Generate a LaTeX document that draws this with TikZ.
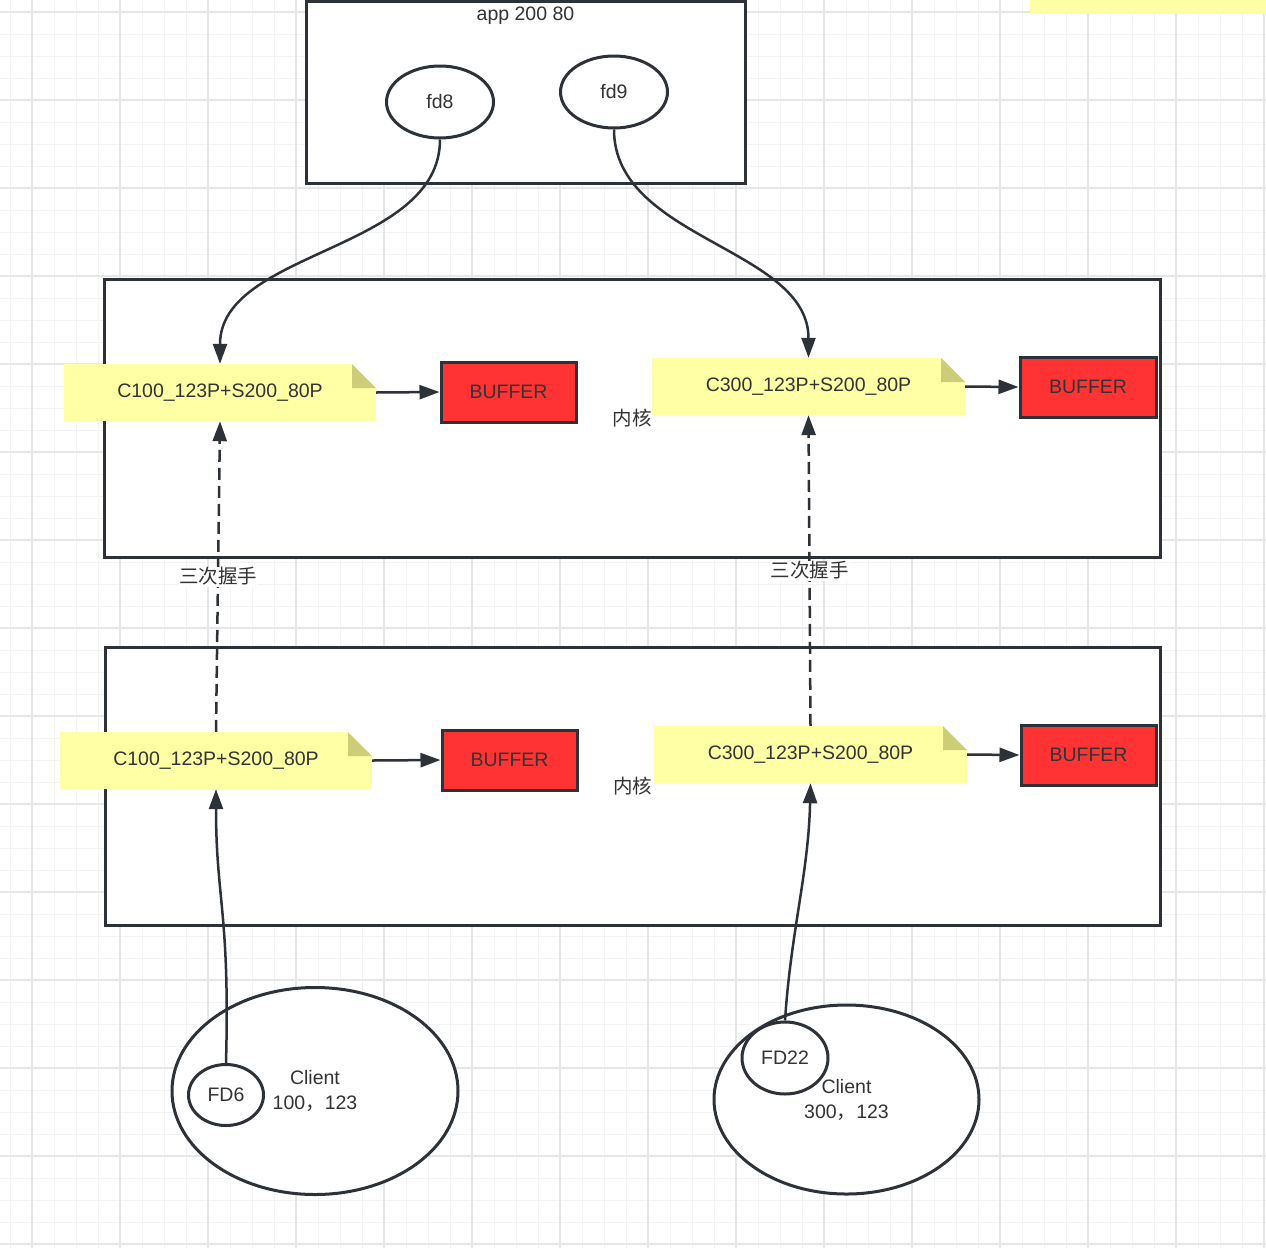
\documentclass[tikz,border=0pt]{standalone}
\usepackage{fontspec}
\setmainfont{Liberation Sans}
\newfontfamily\cjk{Noto Sans CJK SC}
\usetikzlibrary{shapes.geometric,arrows.meta}
\definecolor{ink}{RGB}{44,50,56}
\definecolor{txt}{RGB}{51,51,51}
\definecolor{notefill}{RGB}{255,255,166}
\definecolor{notefold}{RGB}{205,205,120}
\definecolor{bufred}{RGB}{255,51,51}
\definecolor{gridminor}{RGB}{243,243,243}
\definecolor{gridmajor}{RGB}{230,230,230}
\tikzset{
 box/.style={draw=ink,line width=3pt,fill=white,text=txt,inner sep=0pt},
 note/.style={fill=notefill,text=txt,minimum width=312pt,minimum height=57pt,inner sep=0pt,
  path picture={
   \fill[white] ([xshift=-24pt]path picture bounding box.north east) -- (path picture bounding box.north east) -- ([yshift=-24pt]path picture bounding box.north east) -- cycle;
   \fill[notefold] ([xshift=-24pt]path picture bounding box.north east) -- ([xshift=-24pt,yshift=-24pt]path picture bounding box.north east) -- ([yshift=-24pt]path picture bounding box.north east) -- cycle;}},
 buf/.style={box,fill=bufred,minimum width=135pt,minimum height=60pt},
 fd/.style={draw=ink,line width=3pt,ellipse,inner sep=0pt,text=txt,align=center},
 link/.style={draw=ink,line width=2.5pt,-{Triangle[length=20pt,width=14pt]}},
 hand/.style={link,dash pattern=on 12pt off 6pt},
 hslbl/.style={fill=white,text=txt,inner sep=1pt}
}
\begin{document}
\begin{tikzpicture}[x=1pt,y=-1pt,font=\fontsize{19.5}{25}\selectfont]
\useasboundingbox[fill=white] (0,0) rectangle (1266,1248);
%сетка
\foreach \i in {0,...,57} {\draw[gridminor,line width=1pt] ({10+22*\i},0) -- ({10+22*\i},1248);}
\foreach \i in {0,...,56} {\draw[gridminor,line width=1pt] (0,{12+22*\i}) -- (1266,{12+22*\i});}
\foreach \i in {0,...,14} {\draw[gridmajor,line width=1.5pt] ({32+88*\i},0) -- ({32+88*\i},1248);}
\foreach \i in {0,...,14} {\draw[gridmajor,line width=1.5pt] (0,{12+88*\i}) -- (1266,{12+88*\i});}
\fill[notefill] (1030,0) rectangle (1266,14);
%app
\node[box,minimum width=439pt,minimum height=182pt] (app) at (525.5,92) {};
\node[anchor=base,text=txt,inner sep=0pt] (applbl) at ([yshift=-21pt]app.north) {app 200 80};
\node[fd,minimum width=107pt,minimum height=72pt] (fd8) at (440,102) {fd8};
\node[fd,minimum width=107pt,minimum height=72pt] (fd9) at (614,92) {fd9};
%ядро
\node[box,minimum width=1056pt,minimum height=278pt] (kup) at (632,418) {\cjk 内核};
\node[box,minimum width=1055pt,minimum height=278pt] (klow) at (632.5,786) {\cjk 内核};
\node[note] (c1up) at (220,392.5) {C100\_123P+S200\_80P};
\node[buf] (buf1up) at (508.5,392) {BUFFER};
\node[note,minimum width=313pt] (c3up) at (808.5,386.5) {C300\_123P+S200\_80P};
\node[buf,minimum width=136pt] (buf3up) at (1088,387) {BUFFER};
\node[note] (c1low) at (216,760.5) {C100\_123P+S200\_80P};
\node[buf] (buf1low) at (509.5,760) {BUFFER};
\node[note,minimum width=313pt] (c3low) at (810.5,754.5) {C300\_123P+S200\_80P};
\node[buf] (buf3low) at (1088.5,755) {BUFFER};
%клиенты
\node[fd,fill=white,minimum width=286pt,minimum height=207pt] (cl1) at (315,1091) {Client\\100{\cjk ，}123};
\node[fd,minimum width=75pt,minimum height=61pt] (fd6) at (226,1095) {FD6};
\node[fd,fill=white,minimum width=265pt,minimum height=189pt] (cl2) at (846.5,1099.5) {Client\\300{\cjk ，}123};
\node[fd,minimum width=86pt,minimum height=72pt] (fd22) at (785,1058) {FD22};
%стрелки
\draw[link] (fd8.south) .. controls +(0,112) and +(0,-114) .. (c1up.north);
\draw[link] (fd9.south) .. controls +(0,110) and +(0,-110) .. (c3up.north);
\draw[link] (c1up.east) -- (buf1up.west);
\draw[link] (c3up.east) -- (buf3up.west);
\draw[link] (c1low.east) -- (buf1low.west);
\draw[link] (c3low.east) -- (buf3low.west);
\draw[hand] (c1low.north) -- node[hslbl] (hs1) {\cjk 三次握手} (c1up.south);
\draw[hand] (c3low.north) -- node[hslbl] (hs2) {\cjk 三次握手} (c3up.south);
\draw[link] (fd6.north) .. controls +(4,-150) and +(0,110) .. (c1low.south);
\draw[link] (fd22.north) .. controls +(6,-90) and +(-2,90) .. (c3low.south);
\end{tikzpicture}
\end{document}
